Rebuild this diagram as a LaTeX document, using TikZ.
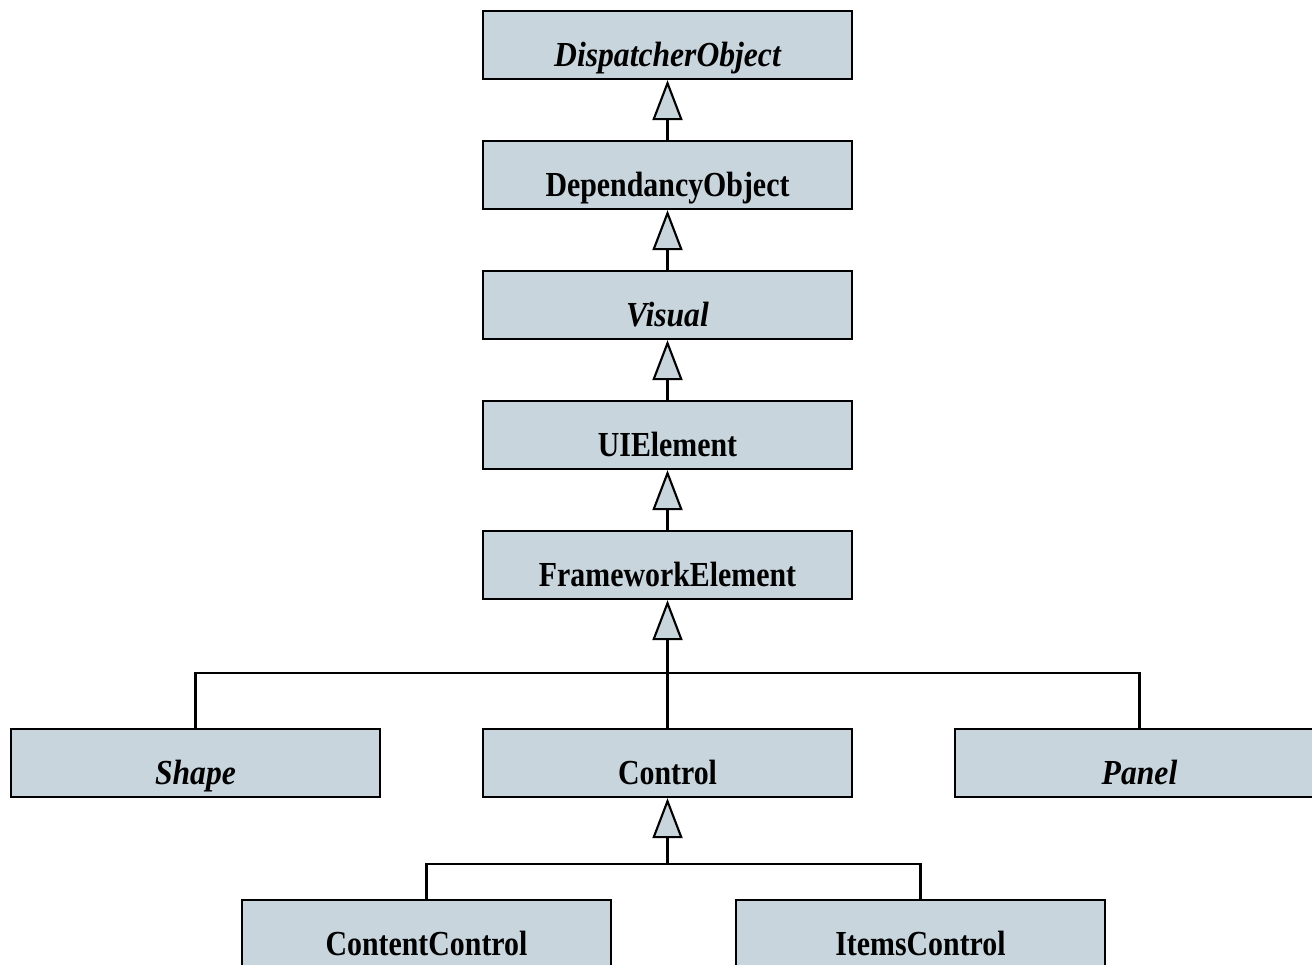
\documentclass[tikz,border=0pt]{standalone}
\usepackage{fontspec}
\setmainfont{Liberation Serif}[FakeStretch=0.85,BoldItalicFeatures={FakeStretch=0.9}]
\usetikzlibrary{arrows.meta}
\definecolor{classfill}{RGB}{200,213,221}

\begin{document}
\begin{tikzpicture}[x=0.02cm,y=-0.02cm,
    class/.style={draw,line width=1.3pt,fill=classfill,minimum width=7.38cm,minimum height=1.36cm,inner sep=0pt,text height=0.86cm,text depth=0pt,font=\fontsize{20}{24}\selectfont\bfseries},
    abstract/.style={class,font=\fontsize{20}{24}\selectfont\bfseries\itshape},
    inherit/.style={line width=1.2pt,-{Triangle[length=0.8cm,width=0.6cm,line width=1.2pt,fill=classfill]}}]
    \useasboundingbox (0,0) rectangle (1312,964);
    \clip (0,0) rectangle (1312,964);
    \node[abstract] (dispatcher) at (667.5,45) {DispatcherObject};
    \node[class] (dependancy) at (667.5,175) {DependancyObject};
    \node[abstract] (visual) at (667.5,305) {Visual};
    \node[class] (uielement) at (667.5,435) {UIElement};
    \node[class] (framework) at (667.5,565) {FrameworkElement};
    \node[abstract] (shape) at (195.5,763) {Shape};
    \node[class] (control) at (667.5,763) {Control};
    \node[abstract] (panel) at (1139.5,763) {Panel};
    \node[class] (content) at (426.5,934) {ContentControl};
    \node[class] (items) at (920.5,934) {ItemsControl};
    \coordinate (bar1) at (667.5,673);
    \coordinate (bar2) at (667.5,864);
    \draw[inherit] (dependancy) -- (dispatcher);
    \draw[inherit] (visual) -- (dependancy);
    \draw[inherit] (uielement) -- (visual);
    \draw[inherit] (framework) -- (uielement);
    \draw[inherit] (bar1) -- (framework);
    \draw[line width=1.2pt] (shape.north) |- (bar1) -| (panel.north);
    \draw[line width=1.2pt] (control.north) -- (bar1);
    \draw[inherit] (bar2) -- (control);
    \draw[line width=1.2pt] (content.north) |- (bar2) -| (items.north);
\end{tikzpicture}
\end{document}
